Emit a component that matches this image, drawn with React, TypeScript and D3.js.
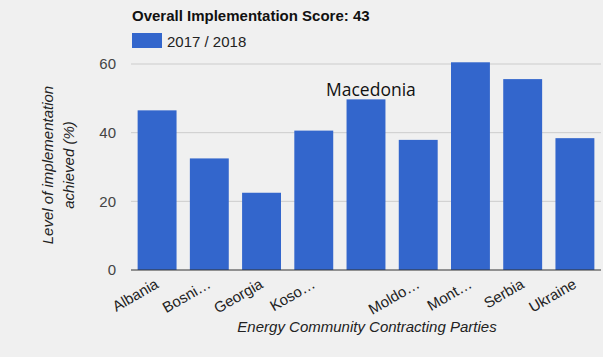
import React from "react";
import * as d3 from "d3";

const categories = ["Albania", "Bosnia and Herzegovina", "Georgia", "Kosovo", "Macedonia", "Moldova", "Montenegro", "Serbia", "Ukraine"];
const tickLabels = ["Albania", "Bosni…", "Georgia", "Koso…", "", "Moldo…", "Mont…", "Serbia", "Ukraine"];
const values = [46.5, 32.5, 22.5, 40.6, 49.7, 37.9, 60.5, 55.6, 38.4];
const yTicks = [0, 20, 40, 60];
const seriesName = "2017 / 2018";
const title = "Overall Implementation Score: 43";

const W = 603;
const H = 357;
const left = 131;
const right = 601;
const top = 64;
const bottom = 270;

export default function App() {
  const x = d3.scaleBand<string>().domain(categories).range([left, right]).paddingInner(0.255).paddingOuter(0.127);
  const y = d3.scaleLinear().domain([0, 60]).range([bottom, top]);
  const font = "Arial, 'Liberation Sans', sans-serif";
  return (
    <svg width={W} height={H} style={{ position: "fixed", left: 0, top: 0 }} fontFamily={font}>
      <rect x={0} y={0} width={W} height={H} fill="#f0f0f0" />
      <text x={132} y={21} fontSize={15} fontWeight="bold" fill="#111">{title}</text>
      <rect x={132} y={33} width={30} height={15} fill="#3366cc" />
      <text x={167} y={46.5} fontSize={15} fill="#222">{seriesName}</text>
      {yTicks.filter(t => t !== 0).map(t => (
        <line key={t} x1={left} x2={right} y1={y(t)} y2={y(t)} stroke="#cccccc" strokeWidth={1} />
      ))}
      {yTicks.map(t => (
        <text key={"l" + t} x={116} y={y(t)} dy="0.35em" textAnchor="end" fontSize={15} fill="#444">{t}</text>
      ))}
      {categories.map((c, i) => (
        <rect key={c} x={x(c)} y={y(values[i])} width={x.bandwidth()} height={y(0) - y(values[i])} fill="#3366cc" />
      ))}
      <line x1={left} x2={right} y1={y(0)} y2={y(0)} stroke="#333" strokeWidth={1} />
      {categories.map((c, i) => (
        <text key={"t" + c} transform={`translate(${(x(c) as number) + x.bandwidth() / 2 + 2.5},${287}) rotate(-30)`} textAnchor="end" fontSize={15} fill="#222">{tickLabels[i]}</text>
      ))}
      <text x={367} y={332} textAnchor="middle" fontSize={15} fontStyle="italic" fill="#222">Energy Community Contracting Parties</text>
      <text transform={`translate(0,165) rotate(-90)`} textAnchor="middle" fontSize={15} fontStyle="italic" fill="#222">
        <tspan x={0} y={53}>Level of implementation</tspan>
        <tspan x={0} y={74}>achieved (%)</tspan>
      </text>
      <text x={326} y={96} fontSize={17.5} fontFamily="'Open Sans', 'Noto Sans', sans-serif" fill="#111">Macedonia</text>
    </svg>
  );
}
